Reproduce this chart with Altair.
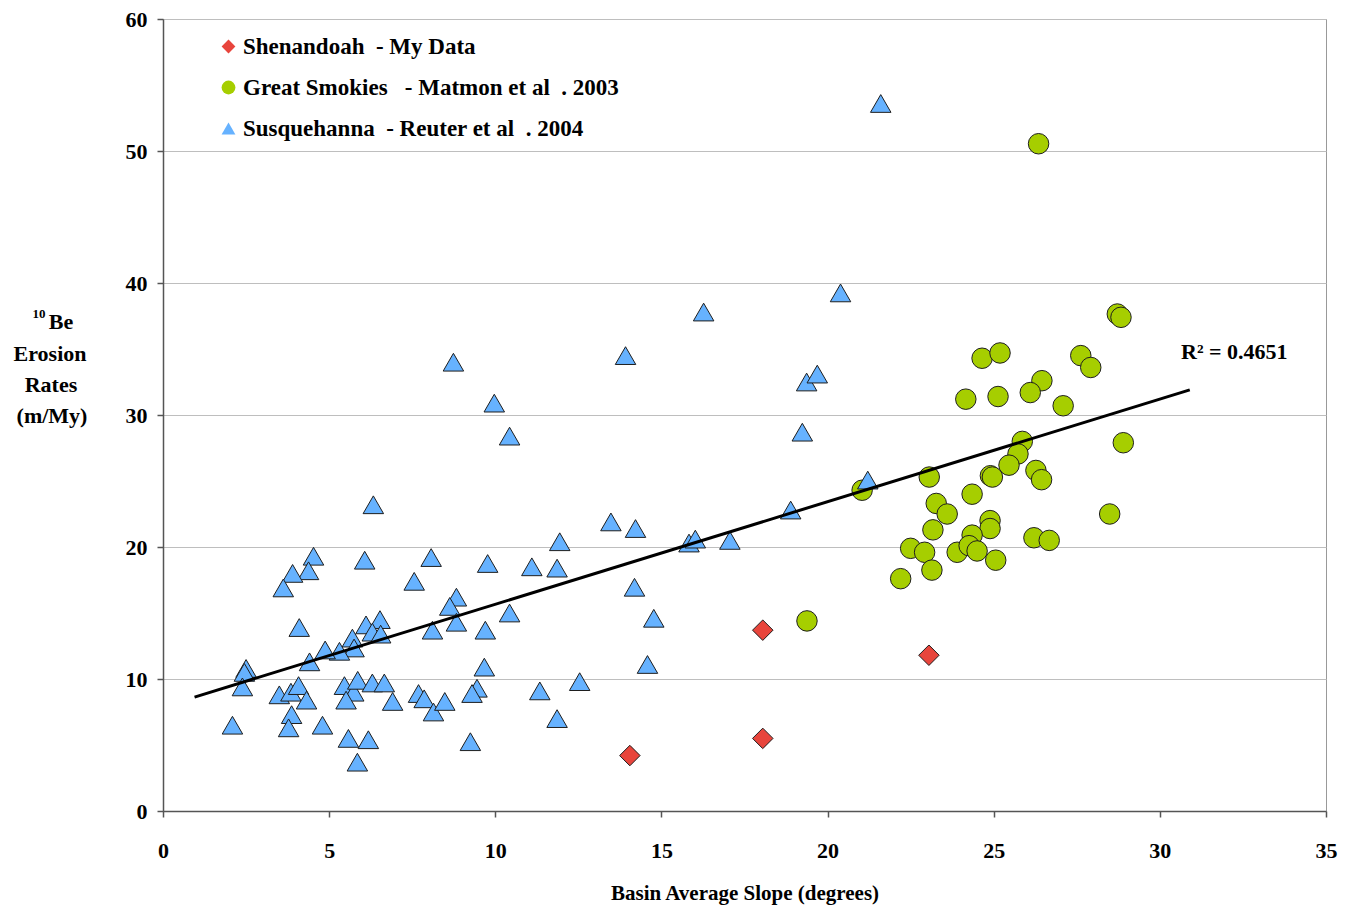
import altair as alt
import pandas as pd

S1 = "Shenandoah\u00a0\u00a0- My Data"
S2 = "Great Smokies\u00a0\u00a0\u00a0- Matmon et al\u00a0\u00a0. 2003"
S3 = "Susquehanna\u00a0\u00a0- Reuter et al\u00a0\u00a0. 2004"
series_names = [S1, S2, S3]

shen_x = [14.05, 18.05, 18.05, 23.05]
shen_y = [4.2, 13.7, 5.5, 11.8]

smoky_x = [26.35, 28.72, 28.83, 24.65, 25.19, 27.62, 27.92, 24.16, 25.13, 26.45,
           26.1, 27.09, 28.9, 25.86, 25.73, 25.46, 24.9, 24.96, 26.27, 26.44,
           23.06, 21.04, 24.35, 23.27, 23.6, 28.49, 24.89, 24.89, 23.17, 24.35,
           26.21, 26.67, 22.5, 22.92, 23.9, 24.26, 24.5, 25.06, 23.14, 22.2, 19.38]
smoky_y = [50.55, 37.65, 37.4, 34.3, 34.7, 34.5, 33.6, 31.2, 31.4, 32.6,
           31.7, 30.7, 27.9, 28.0, 27.05, 26.2, 25.4, 25.3, 25.8, 25.1,
           25.3, 24.3, 24.0, 23.3, 22.5, 22.5, 22.0, 21.4, 21.3, 20.9,
           20.7, 20.5, 19.9, 19.6, 19.6, 20.1, 19.7, 19.0, 18.25, 17.6, 14.4]

susq_x = [6.33, 4.53, 4.38, 3.9, 3.62, 6.07, 8.07, 7.56, 8.83, 8.63,
          8.83, 8.11, 4.1, 6.11, 6.53, 6.3, 6.55, 5.7, 5.75, 5.31,
          4.88, 4.41, 2.5, 2.45, 2.39, 2.09, 3.5, 3.85, 4.08, 4.32,
          3.87, 3.78, 4.8, 5.46, 5.74, 5.51, 5.86, 6.3, 6.66, 6.91,
          5.58, 6.18, 5.85, 7.69, 7.86, 8.14, 8.48,
          8.74, 13.92, 9.97, 10.43, 13.48, 14.22, 11.94, 15.83, 16.02, 17.06,
          9.77, 11.1, 11.86, 14.19, 10.43, 14.77, 9.7, 9.67, 14.58, 12.54,
          11.34, 9.45, 9.3, 11.86, 9.25, 16.27, 20.39, 19.37, 19.69, 19.24,
          21.21, 18.89, 21.6]
susq_y = [23.2, 19.3, 18.2, 18.0, 16.9, 19.0, 19.2, 17.4, 16.2, 15.5,
          14.3, 13.7, 13.9, 14.1, 14.5, 13.55, 13.4, 13.1, 12.35, 12.1,
          12.2, 11.3, 10.8, 10.5, 9.4, 6.5, 8.8, 9.0, 9.5, 8.4,
          7.3, 6.3, 6.5, 9.5, 9.0, 8.4, 9.9, 9.7, 9.7, 8.3,
          5.5, 5.4, 3.7, 8.9, 8.5, 7.5, 8.3,
          34.0, 34.5, 30.9, 28.4, 21.9, 21.4, 20.4, 20.3, 20.6, 20.5,
          18.75, 18.5, 18.4, 16.95, 15.0, 14.6, 13.7, 10.9, 11.1, 9.8,
          9.1, 9.3, 8.9, 7.0, 5.25, 37.8, 39.25, 32.5, 33.1, 28.7,
          25.07, 22.8, 53.6]

trend_x = [0.95, 30.9]
trend_y = [8.63, 31.9]

x_ticks = [0, 5, 10, 15, 20, 25, 30, 35]
y_ticks = [0, 10, 20, 30, 40, 50, 60]

FONT = "Liberation Serif"

pts = pd.concat([
    pd.DataFrame({"slope": smoky_x, "rate": smoky_y, "series": S2}),
    pd.DataFrame({"slope": susq_x, "rate": susq_y, "series": S3}),
    pd.DataFrame({"slope": shen_x, "rate": shen_y, "series": S1}),
], ignore_index=True)

trend = pd.DataFrame({"slope": trend_x, "rate": trend_y})

xs = alt.Scale(domain=[0, 35], nice=False, zero=True)
ys = alt.Scale(domain=[0, 60], nice=False, zero=True)

xaxis = alt.Axis(values=x_ticks, grid=False, tickSize=6, tickColor="#555555",
                 domainColor="#555555", domainWidth=1.5, tickWidth=1.5,
                 labelFont=FONT, labelFontSize=22, labelFontWeight="bold",
                 labelColor="black", labelBaseline="middle", labelPadding=33,
                 labelFlush=False, labelOverlap=False,
                 title="Basin Average Slope (degrees)", titleFont=FONT,
                 titleFontSize=21, titleFontWeight="bold", titleColor="black",
                 titleY=82, titleBaseline="middle")
yaxis = alt.Axis(values=y_ticks, grid=True, gridColor="#BEBEBE", gridWidth=1,
                 tickSize=6, tickColor="#555555", domainColor="#555555",
                 domainWidth=1.5, tickWidth=1.5, labelFlush=False,
                 labelFont=FONT, labelFontSize=22, labelFontWeight="bold",
                 labelColor="black", labelPadding=10, title=None)

leg = alt.Legend(orient="none", legendX=54, legendY=16,
                 title=None, labelFont=FONT, labelFontSize=23,
                 labelFontWeight="bold", labelColor="black",
                 symbolSize=190, symbolStrokeColor="#1e1e1e",
                 symbolStrokeWidth=1, rowPadding=17,
                 labelOffset=3, padding=0, labelLimit=700)

points = alt.Chart(pts).mark_point(filled=True, stroke="#1e1e1e", strokeWidth=1,
                                   opacity=1, size=420).encode(
    x=alt.X("slope:Q", scale=xs, axis=xaxis),
    y=alt.Y("rate:Q", scale=ys, axis=yaxis),
    fill=alt.Fill("series:N",
                  scale=alt.Scale(domain=series_names,
                                  range=["#E8453C", "#A6CE00", "#66B2FF"]),
                  legend=leg),
    shape=alt.Shape("series:N",
                    scale=alt.Scale(domain=series_names,
                                    range=["diamond", "circle", "triangle-up"]),
                    legend=leg),
)

line = alt.Chart(trend).mark_line(color="black", strokeWidth=3).encode(
    x=alt.X("slope:Q", scale=xs),
    y=alt.Y("rate:Q", scale=ys),
)


def txt(s, x, y, size=22, align="center"):
    return alt.Chart(pd.DataFrame({"t": [s]})).mark_text(
        font=FONT, fontSize=size, fontWeight="bold", color="black",
        align=align, baseline="middle").encode(
        text="t:N", x=alt.value(x), y=alt.value(y))


labels = [
    txt("10", -124, 295, size=13),
    txt("Be", -102, 303, align="center"),
    txt("Erosion", -113, 335),
    txt("Rates", -112, 366),
    txt("(m/My)", -111, 397),
    txt("R\u00b2 = 0.4651", 1018, 333, align="left"),
]

chart = alt.layer(points, line, *labels).properties(
    width=1163, height=792,
    padding={"left": 163, "top": 19, "right": 22, "bottom": 100},
    autosize=alt.AutoSizeParams(type="none"),
    background="white",
).configure_view(stroke="#999999", strokeWidth=1)

chart.save("out.html", embed_options={"renderer": "svg", "actions": False})
